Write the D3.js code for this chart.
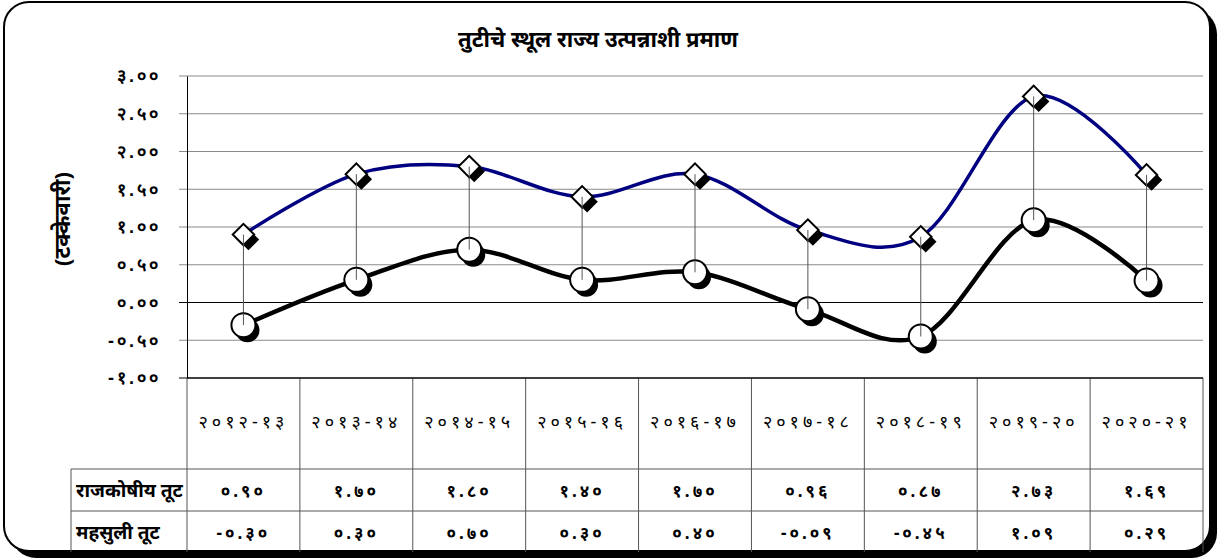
<!DOCTYPE html>
<html>
<head>
<meta charset="utf-8">
<script src="https://cdn.jsdelivr.net/npm/d3@7"></script>
<style>
  body { margin: 0; background: #fff; }
  svg { display: block; font-family: "Noto Sans", "DejaVu Sans", sans-serif; }
</style>
</head>
<body>
<svg id="chart" width="1222" height="560"></svg>
<script>
const categories = ["२०१२-१३", "२०१३-१४", "२०१४-१५", "२०१५-१६", "२०१६-१७", "२०१७-१८", "२०१८-१९", "२०१९-२०", "२०२०-२१"];
const fiscalDeficit = [0.90, 1.70, 1.80, 1.40, 1.70, 0.96, 0.87, 2.73, 1.69];
const revenueDeficit = [-0.30, 0.30, 0.70, 0.30, 0.40, -0.09, -0.45, 1.09, 0.29];
const fiscalLabels = ["०.९०", "१.७०", "१.८०", "१.४०", "१.७०", "०.९६", "०.८७", "२.७३", "१.६९"];
const revenueLabels = ["-०.३०", "०.३०", "०.७०", "०.३०", "०.४०", "-०.०९", "-०.४५", "१.०९", "०.२९"];
const seriesNames = ["राजकोषीय तूट", "महसुली तूट"];
const yTicks = [-1, -0.5, 0, 0.5, 1, 1.5, 2, 2.5, 3];
const yTickLabels = ["-१.००", "-०.५०", "०.००", "०.५०", "१.००", "१.५०", "२.००", "२.५०", "३.००"];

const svg = d3.select("#chart");

// outer frame with shadow
svg.append("rect")
  .attr("x", 11).attr("y", 9).attr("width", 1206).attr("height", 549)
  .attr("rx", 25).attr("fill", "#000");
svg.append("rect")
  .attr("x", 4).attr("y", 2).attr("width", 1206).attr("height", 549)
  .attr("rx", 25).attr("fill", "#fff").attr("stroke", "#000").attr("stroke-width", 2);

const plotLeft = 187, plotRight = 1203, plotTop = 76, plotBottom = 378;

const x = d3.scaleBand().domain(categories).range([plotLeft, plotRight]);
const y = d3.scaleLinear().domain([-1, 3]).range([plotBottom, plotTop]);
const cx = d => x(d) + x.bandwidth() / 2;

// title
svg.append("text")
  .attr("x", 598).attr("y", 47)
  .attr("text-anchor", "middle")
  .style("font-size", "22px").style("font-weight", "bold")
  .text("तुटीचे स्थूल राज्य उत्पन्नाशी प्रमाण");

// y axis label
svg.append("text")
  .attr("transform", `translate(70, 219) rotate(-90)`)
  .attr("text-anchor", "middle")
  .style("font-size", "22px").style("font-weight", "bold")
  .text("(टक्केवारी)");

// gridlines
svg.append("g")
  .selectAll("line")
  .data(yTicks)
  .join("line")
  .attr("x1", plotLeft - 8).attr("x2", plotRight)
  .attr("y1", d => y(d)).attr("y2", d => y(d))
  .attr("stroke", d => (d === 0 || d === -1) ? "#000" : "#8a8a8a")
  .attr("stroke-width", 1);

// y axis
const yAxis = d3.axisLeft(y)
  .tickValues(yTicks)
  .tickSize(0)
  .tickPadding(26)
  .tickFormat((d, i) => yTickLabels[i]);
const yg = svg.append("g").attr("transform", `translate(${plotLeft},0)`).call(yAxis);
yg.select(".domain").attr("stroke", "#000");
yg.selectAll("text")
  .style("font-size", "18px").style("font-weight", "bold")
  .style("letter-spacing", "3px").attr("fill", "#000");

// table
const rowTop1 = 469, rowTop2 = 511, tableBottom = 552, labelLeft = 71;
const table = svg.append("g");
table.selectAll("line.v")
  .data(d3.range(categories.length + 1))
  .join("line")
  .attr("x1", i => plotLeft + i * x.bandwidth()).attr("x2", i => plotLeft + i * x.bandwidth())
  .attr("y1", plotBottom).attr("y2", tableBottom)
  .attr("stroke", "#555").attr("stroke-width", 1);
table.append("line")
  .attr("x1", labelLeft).attr("x2", labelLeft)
  .attr("y1", rowTop1).attr("y2", tableBottom)
  .attr("stroke", "#555");
[rowTop1, rowTop2].forEach(yy => {
  table.append("line")
    .attr("x1", labelLeft).attr("x2", plotRight)
    .attr("y1", yy).attr("y2", yy)
    .attr("stroke", "#555");
});

// x axis line
svg.append("line")
  .attr("x1", plotLeft).attr("x2", plotRight)
  .attr("y1", plotBottom).attr("y2", plotBottom)
  .attr("stroke", "#000");

table.selectAll("text.cat")
  .data(categories)
  .join("text")
  .attr("x", d => cx(d)).attr("y", 428)
  .attr("text-anchor", "middle")
  .style("font-size", "18px").style("letter-spacing", "4px")
  .text(d => d);

const rows = [[fiscalLabels, (rowTop1 + rowTop2) / 2], [revenueLabels, (rowTop2 + tableBottom) / 2]];
rows.forEach(([labels, yy], r) => {
  table.append("text")
    .attr("x", 76).attr("y", yy + 7)
    .style("font-size", "19px").style("font-weight", "bold")
    .text(seriesNames[r]);
  table.selectAll(null)
    .data(labels)
    .join("text")
    .attr("x", (d, i) => cx(categories[i])).attr("y", yy + 7)
    .attr("text-anchor", "middle")
    .style("font-size", "17px").style("font-weight", "bold").style("letter-spacing", "3px")
    .text(d => d);
});

// high-low drop lines
svg.append("g")
  .selectAll("line")
  .data(categories)
  .join("line")
  .attr("x1", d => cx(d)).attr("x2", d => cx(d))
  .attr("y1", (d, i) => y(fiscalDeficit[i])).attr("y2", (d, i) => y(revenueDeficit[i]))
  .attr("stroke", "#555").attr("stroke-width", 1);

const line = d3.line().curve(d3.curveCatmullRom.alpha(0));

// series lines
svg.append("path")
  .datum(categories.map((c, i) => [cx(c), y(fiscalDeficit[i])]))
  .attr("d", line).attr("fill", "none")
  .attr("stroke", "#000080").attr("stroke-width", 3.5);
svg.append("path")
  .datum(categories.map((c, i) => [cx(c), y(revenueDeficit[i])]))
  .attr("d", line).attr("fill", "none")
  .attr("stroke", "#000").attr("stroke-width", 4.5);

// diamond markers with shadow
const diamond = d3.symbol().type(d3.symbolSquare).size(230);
const dg = svg.append("g");
dg.selectAll("path.sh")
  .data(categories)
  .join("path")
  .attr("d", diamond)
  .attr("transform", (d, i) => `translate(${cx(d) + 5},${y(fiscalDeficit[i]) + 5}) rotate(45)`)
  .attr("fill", "#000");
dg.selectAll("path.mk")
  .data(categories)
  .join("path")
  .attr("d", diamond)
  .attr("transform", (d, i) => `translate(${cx(d)},${y(fiscalDeficit[i])}) rotate(45)`)
  .attr("fill", "#fff").attr("stroke", "#000").attr("stroke-width", 2);

// circle markers with shadow
const cg = svg.append("g");
cg.selectAll("circle.sh")
  .data(categories)
  .join("circle")
  .attr("cx", d => cx(d) + 4).attr("cy", (d, i) => y(revenueDeficit[i]) + 5)
  .attr("r", 12).attr("fill", "#000");
cg.selectAll("circle.mk")
  .data(categories)
  .join("circle")
  .attr("cx", d => cx(d)).attr("cy", (d, i) => y(revenueDeficit[i]))
  .attr("r", 12).attr("fill", "#fff").attr("stroke", "#000").attr("stroke-width", 2);

// drop line stubs visible inside markers
svg.append("g")
  .selectAll("line")
  .data(categories)
  .join("line")
  .attr("x1", d => cx(d)).attr("x2", d => cx(d))
  .attr("y1", (d, i) => y(fiscalDeficit[i])).attr("y2", (d, i) => y(fiscalDeficit[i]) + 12)
  .attr("stroke", "#555");
svg.append("g")
  .selectAll("line")
  .data(categories)
  .join("line")
  .attr("x1", d => cx(d)).attr("x2", d => cx(d))
  .attr("y1", (d, i) => y(revenueDeficit[i]) - 12).attr("y2", (d, i) => y(revenueDeficit[i]))
  .attr("stroke", "#555");
</script>
</body>
</html>
